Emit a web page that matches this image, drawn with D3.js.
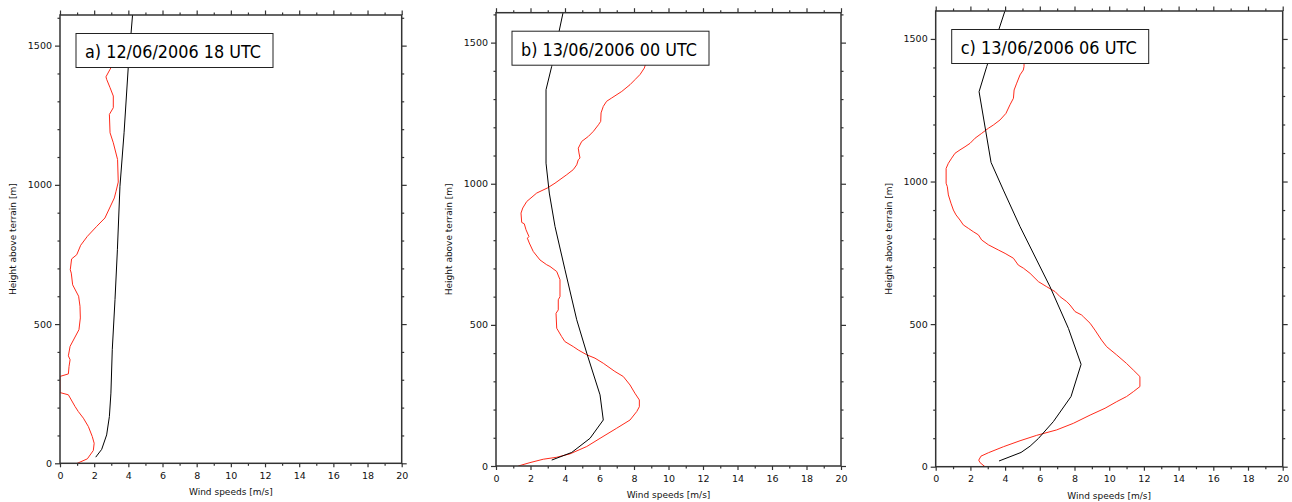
<!DOCTYPE html>
<html>
<head>
<meta charset="utf-8">
<script src="https://cdn.jsdelivr.net/npm/d3@7"></script>
<style>
  html, body { margin: 0; padding: 0; background: #fff; }
  svg { display: block; font-family: "DejaVu Sans", sans-serif; }
</style>
</head>
<body>
<svg id="chart" width="1292" height="502"></svg>
<script>
// Wind speed profiles: [wind speed m/s, height above terrain m]
const titles = ["a) 12/06/2006 18 UTC", "b) 13/06/2006 00 UTC", "c) 13/06/2006 06 UTC"];
const xTicks = [0, 2, 4, 6, 8, 10, 12, 14, 16, 18, 20];
const yTicks = [0, 500, 1000, 1500];
const heightMax = [1610, 1606, 1598];

// model profiles (black)
const modelA = [[2.09,22],[2.44,50],[2.73,102],[2.89,168],[2.98,252],[3.06,408],[3.22,588],[3.36,767],[3.51,995],[3.75,1187],[4.0,1427],[4.25,1613]];
const modelB = [[3.23,21],[4.39,48],[5.45,98],[6.22,163],[6.03,252],[5.26,400],[4.68,518],[4.0,695],[3.42,849],[3.09,967],[2.90,1073],[2.90,1333],[3.23,1416],[3.90,1610]];
const modelC = [[3.65,20],[4.92,50],[5.44,72],[5.92,99],[6.78,158],[7.80,246],[8.38,359],[7.65,485],[6.59,631],[4.86,842],[3.90,970],[3.19,1067],[2.50,1315],[2.94,1403],[4.0,1600]];

// observed profiles (red)
const obsA = [[1.01,0],[1.6,16],[1.95,46],[2.0,72],[1.89,96],[1.66,132],[1.37,162],[1.07,186],[0.88,204],[0.49,246],[0,254],[0,312],[0.49,321],[0.53,348],[0.59,372],[0.49,386],[0.59,420],[1.11,480],[1.19,522],[1.17,564],[1.09,600],[0.74,641],[0.66,683],[0.6,695],[0.68,734],[0.98,749],[1.21,783],[1.6,815],[2.15,851],[2.63,881],[3.18,953],[3.28,977],[3.41,1010],[3.37,1091],[3.12,1151],[2.93,1187],[2.89,1253],[3.12,1277],[3.12,1319],[2.93,1349],[2.73,1379],[2.69,1388],[2.93,1415],[3.04,1427],[3.1,1450]];
const obsB = [[1.29,0],[1.97,12],[2.74,24],[3.52,31],[4.29,43],[5.26,69],[6.03,98],[7.0,134],[7.77,163],[8.16,193],[8.31,210],[8.31,234],[8.05,258],[7.77,287],[7.38,317],[6.89,335],[6.22,364],[5.74,382],[5.26,394],[4.77,411],[4.48,423],[3.99,441],[3.80,459],[3.52,488],[3.48,541],[3.61,553],[3.61,589],[3.71,600],[3.71,660],[3.52,689],[3.13,707],[2.94,713],[2.55,730],[2.16,760],[1.93,790],[1.82,807],[1.91,813],[1.74,837],[1.64,858],[1.49,863],[1.45,896],[1.55,914],[1.78,937],[2.36,967],[2.98,985],[3.42,1002],[4.1,1032],[4.48,1050],[4.68,1067],[4.77,1085],[4.87,1091],[4.81,1109],[4.77,1126],[4.97,1150],[5.36,1168],[5.65,1186],[5.94,1209],[6.07,1221],[6.09,1251],[6.22,1274],[6.41,1292],[6.71,1304],[7.29,1327],[7.77,1351],[8.06,1369],[8.35,1387],[8.6,1410],[8.75,1440]];
const obsC = [[2.84,0],[2.56,14],[2.48,23],[2.61,37],[3.04,49],[3.90,70],[4.86,91],[5.82,110],[6.97,129],[7.93,152],[8.90,181],[9.76,205],[10.43,228],[11.0,246],[11.39,263],[11.77,281],[11.77,316],[11.39,339],[11.0,362],[10.43,392],[9.85,421],[9.56,444],[9.18,479],[8.9,503],[8.51,526],[8.41,532],[8.03,544],[7.74,567],[7.55,579],[7.17,596],[6.88,614],[6.40,631],[5.92,649],[5.44,678],[5.06,696],[4.76,707],[4.48,731],[4.0,748],[3.61,760],[3.04,778],[2.65,795],[2.46,813],[2.17,824],[1.88,836],[1.59,848],[1.40,865],[1.17,883],[1.02,900],[0.88,924],[0.73,953],[0.67,982],[0.60,994],[0.60,1046],[0.73,1064],[0.92,1082],[1.11,1099],[1.40,1111],[1.69,1122],[1.98,1134],[2.27,1152],[2.65,1169],[3.04,1187],[3.32,1198],[3.71,1216],[4.05,1239],[4.28,1269],[4.48,1292],[4.52,1321],[4.67,1345],[4.86,1374],[5.05,1391],[5.09,1403],[5.1,1440]];

const models = [modelA, modelB, modelC];
const observed = [obsA, obsB, obsC];

// plot frames for the three panels
const frames = [
  { left: 60,    right: 401.7,  top: 15,   bottom: 463.3 },
  { left: 496,   right: 841,    top: 12.7, bottom: 466 },
  { left: 935.7, right: 1282.7, top: 11,   bottom: 466.7 }
];

const svg = d3.select("#chart");
const axisColor = "#333";

frames.forEach((f, i) => {
  const x = d3.scaleLinear().domain([0, 20]).range([f.left, f.right]);
  const y = d3.scaleLinear().domain([0, heightMax[i]]).range([f.bottom, f.top]);
  const g = svg.append("g");

  const clipId = "clip" + i;
  svg.append("clipPath").attr("id", clipId)
    .append("rect").attr("x", f.left).attr("y", f.top)
    .attr("width", f.right - f.left).attr("height", f.bottom - f.top);

  const xMinor = d3.range(1, 20, 2);
  const yMinor = d3.range(100, heightMax[i], 100).filter(v => v % 500 !== 0);

  function styleAxis(sel) {
    sel.select(".domain").remove();
    sel.selectAll(".tick line").attr("stroke", axisColor).attr("stroke-width", 1.2);
    sel.selectAll("text").attr("fill", "#111").style("font-size", "9.5px")
      .style("font-family", "'DejaVu Sans', sans-serif");
  }

  // bottom
  g.append("g").attr("transform", `translate(0,${f.bottom})`)
    .call(d3.axisBottom(x).tickValues(xTicks).tickFormat(d3.format("d")).tickSize(4).tickPadding(5))
    .call(styleAxis);
  g.append("g").attr("transform", `translate(0,${f.bottom})`)
    .call(d3.axisBottom(x).tickValues(xMinor).tickFormat("").tickSize(2.5)).call(styleAxis);
  // top
  g.append("g").attr("transform", `translate(0,${f.top})`)
    .call(d3.axisTop(x).tickValues(xTicks).tickFormat("").tickSize(4.5)).call(styleAxis);
  g.append("g").attr("transform", `translate(0,${f.top})`)
    .call(d3.axisTop(x).tickValues(xMinor).tickFormat("").tickSize(2.5)).call(styleAxis);
  // left
  g.append("g").attr("transform", `translate(${f.left},0)`)
    .call(d3.axisLeft(y).tickValues(yTicks).tickFormat(d3.format("d")).tickSize(5).tickPadding(3))
    .call(styleAxis);
  g.append("g").attr("transform", `translate(${f.left},0)`)
    .call(d3.axisLeft(y).tickValues(yMinor).tickFormat("").tickSize(2.5)).call(styleAxis);
  // right
  g.append("g").attr("transform", `translate(${f.right},0)`)
    .call(d3.axisRight(y).tickValues(yTicks).tickFormat("").tickSize(5)).call(styleAxis);
  g.append("g").attr("transform", `translate(${f.right},0)`)
    .call(d3.axisRight(y).tickValues(yMinor).tickFormat("").tickSize(2.5)).call(styleAxis);

  const line = d3.line().x(d => x(d[0])).y(d => y(d[1]));
  const plot = g.append("g").attr("clip-path", `url(#${clipId})`);

  plot.append("path").datum(observed[i])
    .attr("d", line).attr("fill", "none").attr("stroke", "#ff2a1a").attr("stroke-width", 1);
  plot.append("path").datum(models[i])
    .attr("d", line).attr("fill", "none").attr("stroke", "#000").attr("stroke-width", 1);

  // frame
  g.append("rect").attr("x", f.left).attr("y", f.top)
    .attr("width", f.right - f.left).attr("height", f.bottom - f.top)
    .attr("fill", "none").attr("stroke", axisColor).attr("stroke-width", 1.5);

  // title box
  const bx = f.left + 16, by = f.top + 18.5, bw = 197, bh = 34;
  g.append("rect").attr("x", bx).attr("y", by).attr("width", bw).attr("height", bh)
    .attr("fill", "#fff").attr("stroke", "#222").attr("stroke-width", 1);
  g.append("text").attr("x", bx + 9).attr("y", by + 24.5)
    .attr("textLength", bw - 21).attr("lengthAdjust", "spacingAndGlyphs")
    .style("font-size", "17.5px").attr("fill", "#000").text(titles[i]);

  // axis titles
  g.append("text").attr("x", (f.left + f.right) / 2).attr("y", f.bottom + 32)
    .attr("text-anchor", "middle").style("font-size", "9px").attr("fill", "#111")
    .text("Wind speeds [m/s]");
  g.append("text")
    .attr("transform", `translate(${f.left - 44},${(f.top + f.bottom) / 2}) rotate(-90)`)
    .attr("text-anchor", "middle").style("font-size", "9px").attr("fill", "#111")
    .text("Height above terrain [m]");
});
</script>
</body>
</html>
